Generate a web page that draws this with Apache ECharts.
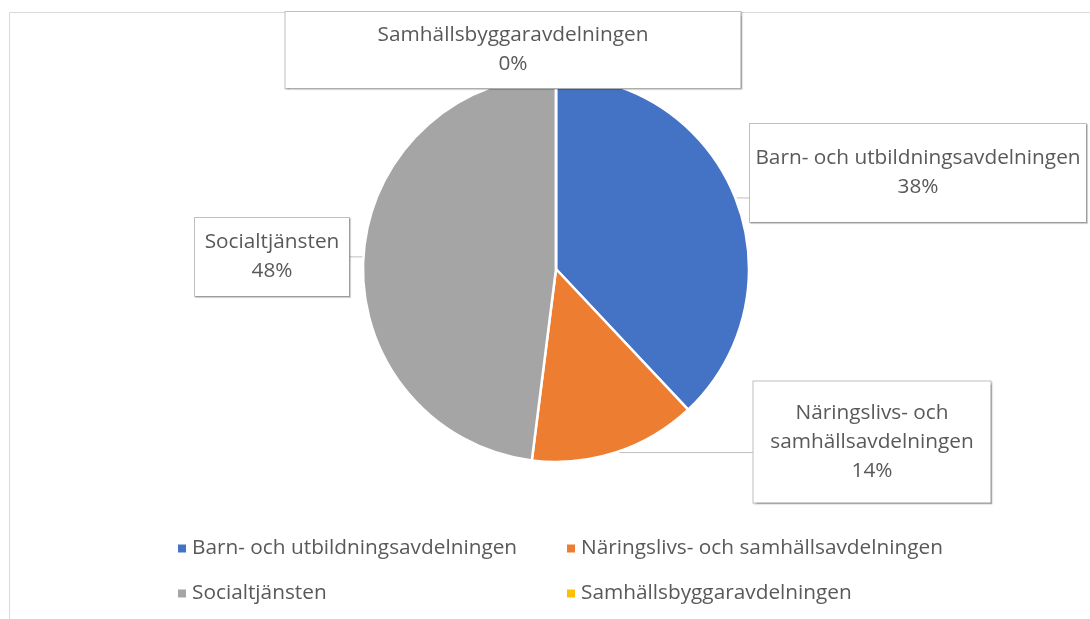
<!DOCTYPE html>
<html>
<head>
<meta charset="utf-8">
<script src="https://cdn.jsdelivr.net/npm/echarts@6/dist/echarts.min.js"></script>
<style>
html, body { margin: 0; padding: 0; background: #fff; }
#main { width: 1090px; height: 619px; }
</style>
</head>
<body>
<div id="main"></div>
<script>
var names = ['Barn- och utbildningsavdelningen', 'Näringslivs- och samhällsavdelningen', 'Socialtjänsten', 'Samhällsbyggaravdelningen'];
var shares = [38, 14, 48, 0];
var labelNames = ['Barn- och utbildningsavdelningen', 'Näringslivs- och\nsamhällsavdelningen', 'Socialtjänsten', 'Samhällsbyggaravdelningen'];

var colors = ['#4472C4', '#ED7D31', '#A5A5A5', '#FFC000'];
var textColor = '#595959';
var fontName = 'Open Sans';
var fontSize = 20.8;

// callout boxes: centre x, centre y, width, padding top, padding bottom
var boxes = [
  [918, 173, 336, 24, 16],
  [872, 442, 237, 19, 15],
  [272, 257, 154, 11, 9],
  [513, 50, 455, 11, 7]
];

var myChart = echarts.init(document.getElementById('main'));

var pieData = [];
for (var i = 0; i < names.length; i++) {
  pieData.push({
    name: names[i],
    value: shares[i],
    itemStyle: { color: colors[i] },
    label: { width: boxes[i][2], padding: [boxes[i][3], 0, boxes[i][4], 0] },
    labelLine: { show: shares[i] > 0 }
  });
}

var legendBase = {
  orient: 'vertical',
  top: 533,
  itemGap: 24,
  icon: 'rect',
  itemWidth: 10,
  itemHeight: 10,
  textStyle: { color: textColor, fontSize: fontSize, fontFamily: fontName, lineHeight: 20 }
};

var option = {
  animation: false,
  graphic: [{
    type: 'rect',
    silent: true,
    z: -10,
    shape: { x: 9.5, y: 12.5, width: 1300, height: 800 },
    style: { fill: 'none', stroke: '#D9D9D9', lineWidth: 1 }
  }],
  legend: [
    echarts.util.merge({ data: [names[0], names[2]], left: 171 }, legendBase),
    echarts.util.merge({ data: [names[1], names[3]], left: 560 }, legendBase)
  ],
  series: [{
    type: 'pie',
    center: [556, 269],
    radius: 193,
    startAngle: 90,
    clockwise: true,
    avoidLabelOverlap: false,
    itemStyle: { borderColor: '#fff', borderWidth: 2.5 },
    label: {
      show: true,
      color: textColor,
      fontSize: fontSize,
      fontFamily: fontName,
      lineHeight: 29,
      align: 'center',
      backgroundColor: '#fff',
      borderColor: '#BFBFBF',
      borderWidth: 1,
      shadowColor: 'rgba(0,0,0,0.18)',
      shadowOffsetX: 1,
      shadowOffsetY: 1,
      shadowBlur: 1,
      formatter: function (p) {
        return labelNames[p.dataIndex] + '\n' + Math.round(p.percent) + '%';
      }
    },
    labelLine: {
      show: true,
      length: 0,
      length2: 0,
      lineStyle: { color: '#BFBFBF', width: 1 }
    },
    labelLayout: function (p) {
      var b = boxes[p.dataIndex];
      var res = { x: b[0], y: b[1], align: 'center', verticalAlign: 'middle' };
      if (p.labelLinePoints && p.labelLinePoints.length) {
        var s = p.labelLinePoints[0];
        var ex = s[0] < b[0] ? b[0] - b[2] / 2 : b[0] + b[2] / 2;
        res.labelLinePoints = [[s[0], s[1]], [s[0], s[1]], [ex, s[1]]];
      }
      return res;
    },
    emphasis: { disabled: true },
    data: pieData
  }]
};

myChart.setOption(option);
</script>
</body>
</html>
